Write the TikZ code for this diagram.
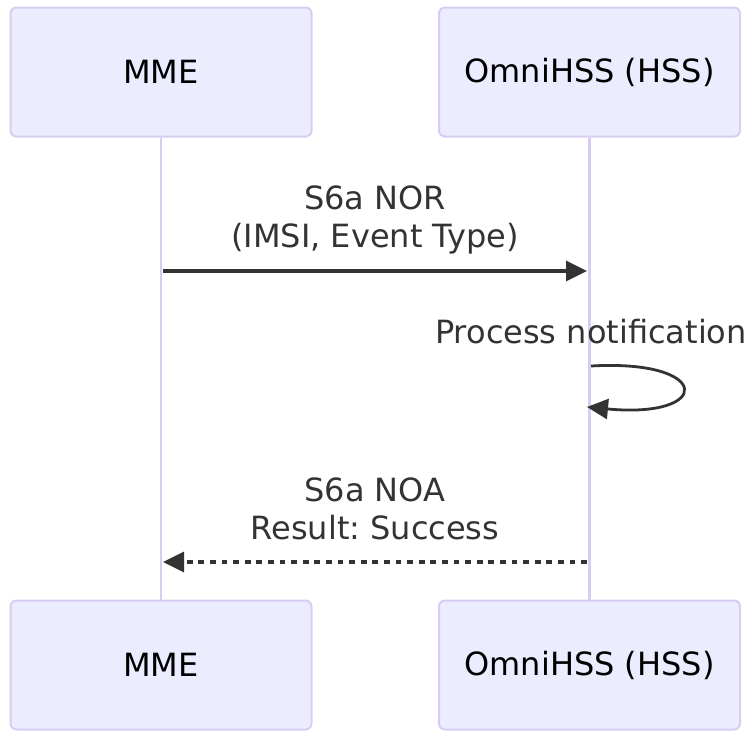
\documentclass[tikz,border=0pt]{standalone}
\usepackage{fontspec}
\setmainfont{DejaVu Sans}
\usetikzlibrary{arrows.meta,positioning}
\definecolor{actorfill}{RGB}{236,236,255}
\definecolor{actorline}{RGB}{216,204,243}
\definecolor{msgdark}{RGB}{51,51,51}
\frenchspacing

\begin{document}
\begin{tikzpicture}[x=1pt, y=-1pt,
  actorbox/.style={draw=actorline, line width=2pt, fill=actorfill, rounded corners=6pt,
    minimum width=301pt, minimum height=129pt, inner sep=0pt,
    font=\fontsize{32}{38}\selectfont, text=black},
  lifeline/.style={draw=actorline, line width=2.8pt},
  msgline/.style={draw=msgdark, line width=3.2pt, -{Triangle[length=21pt,width=20pt]}},
  msgtext/.style={font=\fontsize{32}{38}\selectfont, text=msgdark, align=center, inner sep=0pt}]
\useasboundingbox (0,0) rectangle (748,731);
% Participants (top and bottom)
\node[actorbox] (mmeTop) at (161,72) {MME};
\node[actorbox] (hssTop) at (589.5,72) {OmniHSS (HSS)};
\node[actorbox] (mmeBot) at (161,665) {MME};
\node[actorbox] (hssBot) at (589.5,665) {OmniHSS (HSS)};
% Lifelines
\draw[lifeline] (mmeTop.south) -- (mmeBot.north);
\draw[lifeline] (hssTop.south) -- (hssBot.north);
% Notify request
\coordinate (norFrom) at (163,271);
\coordinate (norTo) at (587,271);
\node[msgtext] (norText) at (375,220) {S6a NOR\\(IMSI, Event Type)};
\draw[msgline] (norFrom) -- (norTo);
% Self call on the HSS
\coordinate (loopFrom) at (591,366);
\coordinate (loopTo) at (587,407);
\node[msgtext, anchor=base] (loopText) at (591,343) {Process notification};
\draw[msgline, line width=2.8pt] (loopFrom) .. controls (713,359) and (713,419) .. (loopTo);
% Notify answer
\coordinate (noaFrom) at (587,562);
\coordinate (noaTo) at (163,562);
\node[msgtext] (noaText) at (375,509) {S6a NOA\\Result: Success};
\draw[msgline, dash pattern=on 5.8pt off 5.8pt] (noaFrom) -- (noaTo);
\end{tikzpicture}
\end{document}
